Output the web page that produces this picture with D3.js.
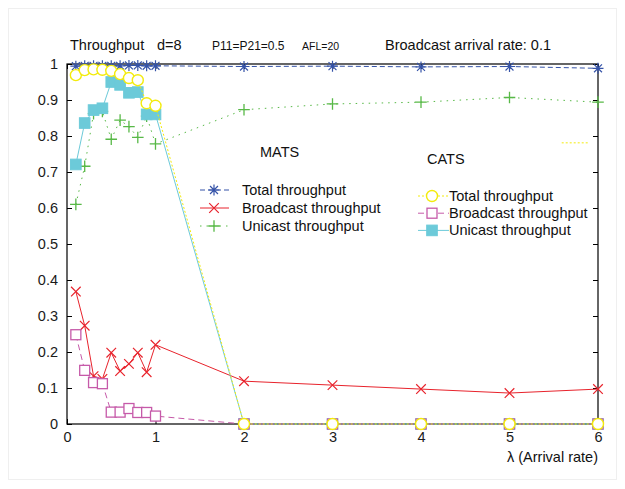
<!DOCTYPE html>
<html><head><meta charset="utf-8">
<script src="https://cdn.jsdelivr.net/npm/d3@7/dist/d3.min.js"></script>
<style>body{margin:0;background:#fff}svg{display:block;font-family:"Liberation Sans",Arial,sans-serif}</style>
</head><body><svg id="c" width="625" height="489"></svg>
<script>
const xs = [0.1,0.2,0.3,0.4,0.5,0.6,0.7,0.8,0.9,1,2,3,4,5,6];
const matsTotal = [0.994,0.995,0.995,0.995,0.995,0.995,0.996,0.996,0.995,0.995,0.993,0.994,0.992,0.993,0.988];
const matsBroad = [0.368,0.273,0.133,0.125,0.198,0.147,0.167,0.198,0.144,0.220,0.119,0.108,0.097,0.086,0.097];
const matsUni   = [0.610,0.716,0.862,0.868,0.791,0.844,0.826,0.796,0.855,0.778,0.873,0.889,0.894,0.907,0.894];
const catsTotal = [0.969,0.983,0.985,0.984,0.981,0.972,0.961,0.955,0.891,0.884,0,0,0,0,0];
const catsBroad = [0.248,0.149,0.115,0.112,0.033,0.033,0.043,0.032,0.032,0.022,0,0,0,0,0];
const catsUni   = [0.721,0.836,0.872,0.877,0.950,0.942,0.920,0.922,0.860,0.860,0,0,0,0,0];
const xTicks = [0,1,2,3,4,5,6];
const yTicks = [0,0.1,0.2,0.3,0.4,0.5,0.6,0.7,0.8,0.9,1];
const legendLabels = ["Total throughput","Broadcast throughput","Unicast throughput"];
const strayX = [5.59,5.9], strayY = 0.781;

const svg = d3.select("#c");
const x = d3.scaleLinear().domain([0,6]).range([67,598]);
const y = d3.scaleLinear().domain([0,1]).range([424,64]);

const C = {blue:"#3553a8", red:"#e8232c", green:"#58b947", yellow:"#f3eb0c", mag:"#c65aa9", cyan:"#6ccad9"};

svg.append("rect").attr("x",8.5).attr("y",8.5).attr("width",608).attr("height",471).attr("fill","none").attr("stroke","#efefef");

const g = svg.append("g");
g.append("rect").attr("x",x(0)).attr("y",y(1)).attr("width",x(6)-x(0)).attr("height",y(0)-y(1)).attr("fill","none").attr("stroke","#000").attr("stroke-width",1.2);
const yl = d3.axisLeft(y).tickValues(yTicks).tickSizeInner(-5).tickSizeOuter(0).tickPadding(9).tickFormat(d=>d===0?"0":d===1?"1":d3.format(".1f")(d));
const ya = g.append("g").attr("transform",`translate(${x(0)},0)`).call(yl);
const yr = g.append("g").attr("transform",`translate(${x(6)},0)`).call(d3.axisRight(y).tickValues(yTicks).tickSizeInner(-5).tickSizeOuter(0).tickFormat(""));
const xb = g.append("g").attr("transform",`translate(0,${y(0)})`).call(d3.axisBottom(x).tickValues(xTicks).tickSizeInner(-5).tickSizeOuter(0).tickPadding(8).tickFormat(d3.format("d")));
const xt = g.append("g").attr("transform",`translate(0,${y(1)})`).call(d3.axisTop(x).tickValues(xTicks).tickSizeInner(-5).tickSizeOuter(0).tickFormat(""));
[ya,yr,xb,xt].forEach(a=>{a.select(".domain").remove();a.selectAll("line").attr("stroke","#000");a.selectAll("text").attr("font-size",14.5).attr("fill","#1a1a1a").attr("font-family","Liberation Sans, Arial, sans-serif");});

function marker(sel, type, color, px, py, s){
  const r = s;
  if(type==="star"){
    sel.append("path").attr("d",`M${px-r},${py}H${px+r}M${px},${py-r}V${py+r}M${px-r*0.72},${py-r*0.72}L${px+r*0.72},${py+r*0.72}M${px-r*0.72},${py+r*0.72}L${px+r*0.72},${py-r*0.72}`).attr("stroke",color).attr("stroke-width",1.2).attr("fill","none");
  } else if(type==="x"){
    sel.append("path").attr("d",`M${px-r},${py-r}L${px+r},${py+r}M${px-r},${py+r}L${px+r},${py-r}`).attr("stroke",color).attr("stroke-width",1.2).attr("fill","none");
  } else if(type==="plus"){
    sel.append("path").attr("d",`M${px-r},${py}H${px+r}M${px},${py-r}V${py+r}`).attr("stroke",color).attr("stroke-width",1.3).attr("fill","none");
  } else if(type==="circle"){
    sel.append("circle").attr("cx",px).attr("cy",py).attr("r",r).attr("fill","#fff").attr("stroke",color).attr("stroke-width",1.4);
  } else if(type==="osq"){
    sel.append("rect").attr("x",px-r).attr("y",py-r).attr("width",2*r).attr("height",2*r).attr("fill","#fff").attr("stroke",color).attr("stroke-width",1.3);
  } else if(type==="fsq"){
    sel.append("rect").attr("x",px-r).attr("y",py-r).attr("width",2*r).attr("height",2*r).attr("fill",color).attr("stroke",color).attr("stroke-width",1);
  }
}

const series = [
  {v:matsTotal, c:C.blue,  dash:"5,3",  m:"star",  s:5.5},
  {v:matsBroad, c:C.red,   dash:null,   m:"x",     s:4.8},
  {v:matsUni,   c:C.green, dash:"1.5,5",m:"plus",  s:5.8},
  {v:catsUni,   c:C.cyan,  dash:null,   m:"fsq",   s:5.3},
  {v:catsBroad, c:C.mag,   dash:"6,4",  m:"osq",   s:5},
  {v:catsTotal, c:C.yellow,dash:"2,2",  m:"circle",s:5.5}
];
const line = d3.line().x(d=>x(d[0])).y(d=>y(d[1]));
series.forEach(sr=>{
  const pts = xs.map((xv,i)=>[xv,sr.v[i]]);
  const p = svg.append("path").attr("d",line(pts)).attr("fill","none").attr("stroke",sr.c).attr("stroke-width",1);
  if(sr.dash) p.attr("stroke-dasharray",sr.dash);
  const mg = svg.append("g");
  pts.forEach(d=>marker(mg, sr.m, sr.c, x(d[0]), y(d[1]), sr.s));
});

svg.append("path").attr("d",line([[strayX[0],strayY],[strayX[1],strayY]])).attr("stroke",C.yellow).attr("stroke-dasharray","2,2").attr("fill","none");

const T = (tx,ty,txt,fs,anchor)=>svg.append("text").attr("x",tx).attr("y",ty).attr("font-size",fs).attr("fill","#111").attr("text-anchor",anchor||"start").text(txt);
T(70,50,"Throughput",14.5);
T(157,50,"d=8",14.5);
T(212,50,"P11=P21=0.5",12);
T(302,50,"AFL=20",10.5);
T(385,50,"Broadcast arrival rate: 0.1",14.5);
T(598,462,"λ (Arrival rate)",14.5,"end");

T(260,157,"MATS",14.5);
T(427,164,"CATS",14.5);
const mats = series.slice(0,3), cats = [series[5],series[4],series[3]];
mats.forEach((sr,i)=>{
  const ly = 190 + i*18;
  const p = svg.append("path").attr("d",`M200,${ly}H229`).attr("stroke",sr.c).attr("fill","none");
  if(sr.dash) p.attr("stroke-dasharray",sr.dash);
  marker(svg, sr.m, sr.c, 214, ly, sr.s);
  T(242,ly+5,legendLabels[i],14.5);
});
cats.forEach((sr,i)=>{
  const ly = 196 + i*17.2;
  const p = svg.append("path").attr("d",`M418,${ly}H449`).attr("stroke",sr.c).attr("fill","none");
  if(sr.dash) p.attr("stroke-dasharray",sr.dash);
  marker(svg, sr.m, sr.c, 432, ly, sr.s);
  T(449,ly+5,legendLabels[i],14.5);
});
</script></body></html>
